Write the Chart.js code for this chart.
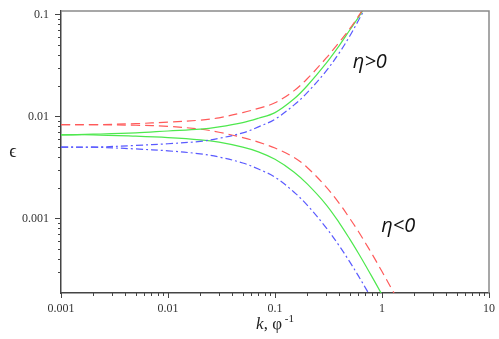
<!DOCTYPE html>
<html>
<head>
<meta charset="utf-8">
<script src="https://cdn.jsdelivr.net/npm/chart.js@4"></script>
<style>
  html, body { margin: 0; padding: 0; background: #fff; }
  #chart { display: block; }
</style>
</head>
<body>
<canvas id="chart" width="499" height="339"></canvas>
<script>
// wavenumber k (1/phi) and growth rate eps
const kUpper = [0.001, 0.002, 0.005, 0.01, 0.02, 0.03, 0.05, 0.07, 0.1, 0.15, 0.2, 0.3, 0.4, 0.5, 0.6, 0.7];
const redUpper = [0.0083, 0.0083, 0.0085, 0.0088, 0.0092, 0.0097, 0.0109, 0.0120, 0.0136, 0.0178, 0.0234, 0.0372, 0.0537, 0.0724, 0.0955, 0.123];
const greenUpper = [0.0066, 0.0067, 0.0069, 0.0072, 0.0075, 0.0079, 0.0087, 0.0096, 0.0109, 0.0148, 0.0200, 0.0331, 0.0498, 0.0703, 0.0931, 0.120];
const blueUpper = [0.0050, 0.0050, 0.0052, 0.0054, 0.0057, 0.0061, 0.0069, 0.0079, 0.0094, 0.0129, 0.0171, 0.0278, 0.0422, 0.0614, 0.0867, 0.116];

const kLower = [0.001, 0.002, 0.005, 0.01, 0.02, 0.03, 0.05, 0.07, 0.1, 0.15, 0.2, 0.3, 0.4, 0.5, 0.6, 0.7, 0.8, 1.0, 1.3, 1.5];
const redLower = [0.0083, 0.0083, 0.0082, 0.0080, 0.0075, 0.0070, 0.0062, 0.0056, 0.0049, 0.00398, 0.00316, 0.00204, 0.0014, 0.0010, 0.00075, 0.000575, 0.000455, 0.000302, 0.000184, 0.00014];
const greenLower = [0.0066, 0.0066, 0.0064, 0.0062, 0.0059, 0.0056, 0.0050, 0.0045, 0.0038, 0.00286, 0.00218, 0.00137, 0.000902, 0.000628, 0.000459, 0.000348, 0.000272, 0.000179, 0.000108];
const blueLower = [0.0050, 0.0050, 0.0048, 0.0046, 0.0043, 0.0040, 0.0035, 0.00305, 0.00254, 0.00182, 0.00135, 0.000813, 0.000536, 0.000375, 0.000275, 0.000209, 0.000164, 0.000107];

const notes = [
  { text: 'η>0', k: 0.77, eps: 0.034 },
  { text: 'η<0', k: 1.42, eps: 0.00084 }
];

const RED = '#ff5a5a';
const GREEN = '#4ee84e';
const BLUE = '#5a5aff';

function series(ks, vals) {
  return vals.map((v, i) => ({ x: ks[i], y: v }));
}

function line(data, color, dash) {
  return {
    data: data,
    borderColor: color,
    borderWidth: 1.2,
    borderDash: dash,
    pointRadius: 0,
    fill: false,
    tension: 0.35
  };
}

// keep only 1..9 x 10^n ticks (drop the min/max end ticks)
function keepNice(scale) {
  scale.ticks = scale.ticks.filter(t => {
    const e = Math.floor(Math.log10(t.value) + 1e-9);
    const m = t.value / Math.pow(10, e);
    return Math.abs(m - Math.round(m)) < 1e-6;
  });
}

function isDecade(v) {
  const lg = Math.log10(v);
  return Math.abs(lg - Math.round(lg)) < 1e-6;
}

function decadeLabel(v) {
  if (!isDecade(v)) return '';
  const e = Math.round(Math.log10(v));
  return e < 0 ? v.toFixed(-e) : String(Math.round(v));
}

const tickFont = { family: '"Liberation Serif", "Times New Roman", serif', size: 12 };

const annotate = {
  id: 'annotate',
  afterDraw(chart) {
    const { ctx, chartArea: a, scales } = chart;
    ctx.save();

    // grey frame on top and right
    ctx.strokeStyle = '#8a8a8a';
    ctx.lineWidth = 1.5;
    ctx.beginPath();
    ctx.moveTo(a.left, a.top);
    ctx.lineTo(a.right, a.top);
    ctx.lineTo(a.right, a.bottom);
    ctx.stroke();

    // tick marks, longer at decades
    ctx.strokeStyle = '#444';
    ctx.lineWidth = 1;
    ctx.beginPath();
    scales.x.ticks.forEach(t => {
      const px = Math.round(scales.x.getPixelForValue(t.value)) + 0.5;
      const len = isDecade(t.value) ? 5 : 3;
      ctx.moveTo(px, a.bottom);
      ctx.lineTo(px, a.bottom + len);
    });
    scales.y.ticks.forEach(t => {
      const py = Math.round(scales.y.getPixelForValue(t.value)) + 0.5;
      const len = isDecade(t.value) ? 6 : 3;
      ctx.moveTo(a.left, py);
      ctx.lineTo(a.left - len, py);
    });
    ctx.stroke();

    // eta labels
    ctx.fillStyle = '#111';
    ctx.font = 'italic 20px "Open Sans"';
    ctx.textAlign = 'center';
    ctx.textBaseline = 'middle';
    notes.forEach(n => {
      ctx.fillText(n.text, scales.x.getPixelForValue(n.k), scales.y.getPixelForValue(n.eps));
    });

    // x title: k, phi^-1
    const serif = '"Liberation Serif", "DejaVu Serif", serif';
    ctx.fillStyle = '#222';
    ctx.textAlign = 'left';
    ctx.textBaseline = 'alphabetic';
    const parts = [
      { t: 'k', f: 'italic 17px ' + serif, dy: 0 },
      { t: ', φ', f: '17px ' + serif, dy: 0 },
      { t: ' -1', f: '11px ' + serif, dy: -7 }
    ];
    let total = 0;
    parts.forEach(p => { ctx.font = p.f; p.w = ctx.measureText(p.t).width; total += p.w; });
    let x = (a.left + a.right) / 2 - total / 2;
    const base = 329;
    parts.forEach(p => {
      ctx.font = p.f;
      ctx.fillText(p.t, x, base + p.dy);
      x += p.w;
    });

    // y title
    ctx.font = '18px ' + serif;
    ctx.textAlign = 'center';
    ctx.textBaseline = 'middle';
    ctx.fillText('\u03F5', 13, (a.top + a.bottom) / 2);
    ctx.restore();
  }
};

new Chart(document.getElementById('chart'), {
  type: 'line',
  data: {
    datasets: [
      line(series(kUpper, redUpper), RED, [9, 5]),
      line(series(kUpper, greenUpper), GREEN, []),
      line(series(kUpper, blueUpper), BLUE, [7, 3, 2, 3]),
      line(series(kLower, redLower), RED, [9, 5]),
      line(series(kLower, greenLower), GREEN, []),
      line(series(kLower, blueLower), BLUE, [7, 3, 2, 3])
    ]
  },
  options: {
    responsive: false,
    animation: false,
    devicePixelRatio: 1,
    layout: { padding: { top: 11, right: 10, left: 0, bottom: 0 } },
    plugins: { legend: { display: false }, tooltip: { enabled: false } },
    scales: {
      x: {
        type: 'logarithmic',
        min: 0.001,
        max: 10,
        afterBuildTicks: keepNice,
        afterFit: s => { s.height = 46; s.paddingLeft = 0; s.paddingRight = 0; },
        grid: { drawOnChartArea: false, drawTicks: true, tickLength: 4, tickColor: 'rgba(0,0,0,0)' },
        border: { display: true, color: '#444', width: 1.5 },
        ticks: { autoSkip: false, maxRotation: 0, padding: 5, color: '#333', font: tickFont, callback: decadeLabel }
      },
      y: {
        type: 'logarithmic',
        min: 0.000186,
        max: 0.108,
        afterBuildTicks: keepNice,
        afterFit: s => { s.width = 61; s.paddingTop = 0; s.paddingBottom = 0; },
        grid: { drawOnChartArea: false, drawTicks: true, tickLength: 4, tickColor: 'rgba(0,0,0,0)' },
        border: { display: true, color: '#444', width: 1.5 },
        ticks: { autoSkip: false, padding: 8, color: '#333', font: tickFont, callback: decadeLabel }
      }
    }
  },
  plugins: [annotate]
});
</script>
</body>
</html>
